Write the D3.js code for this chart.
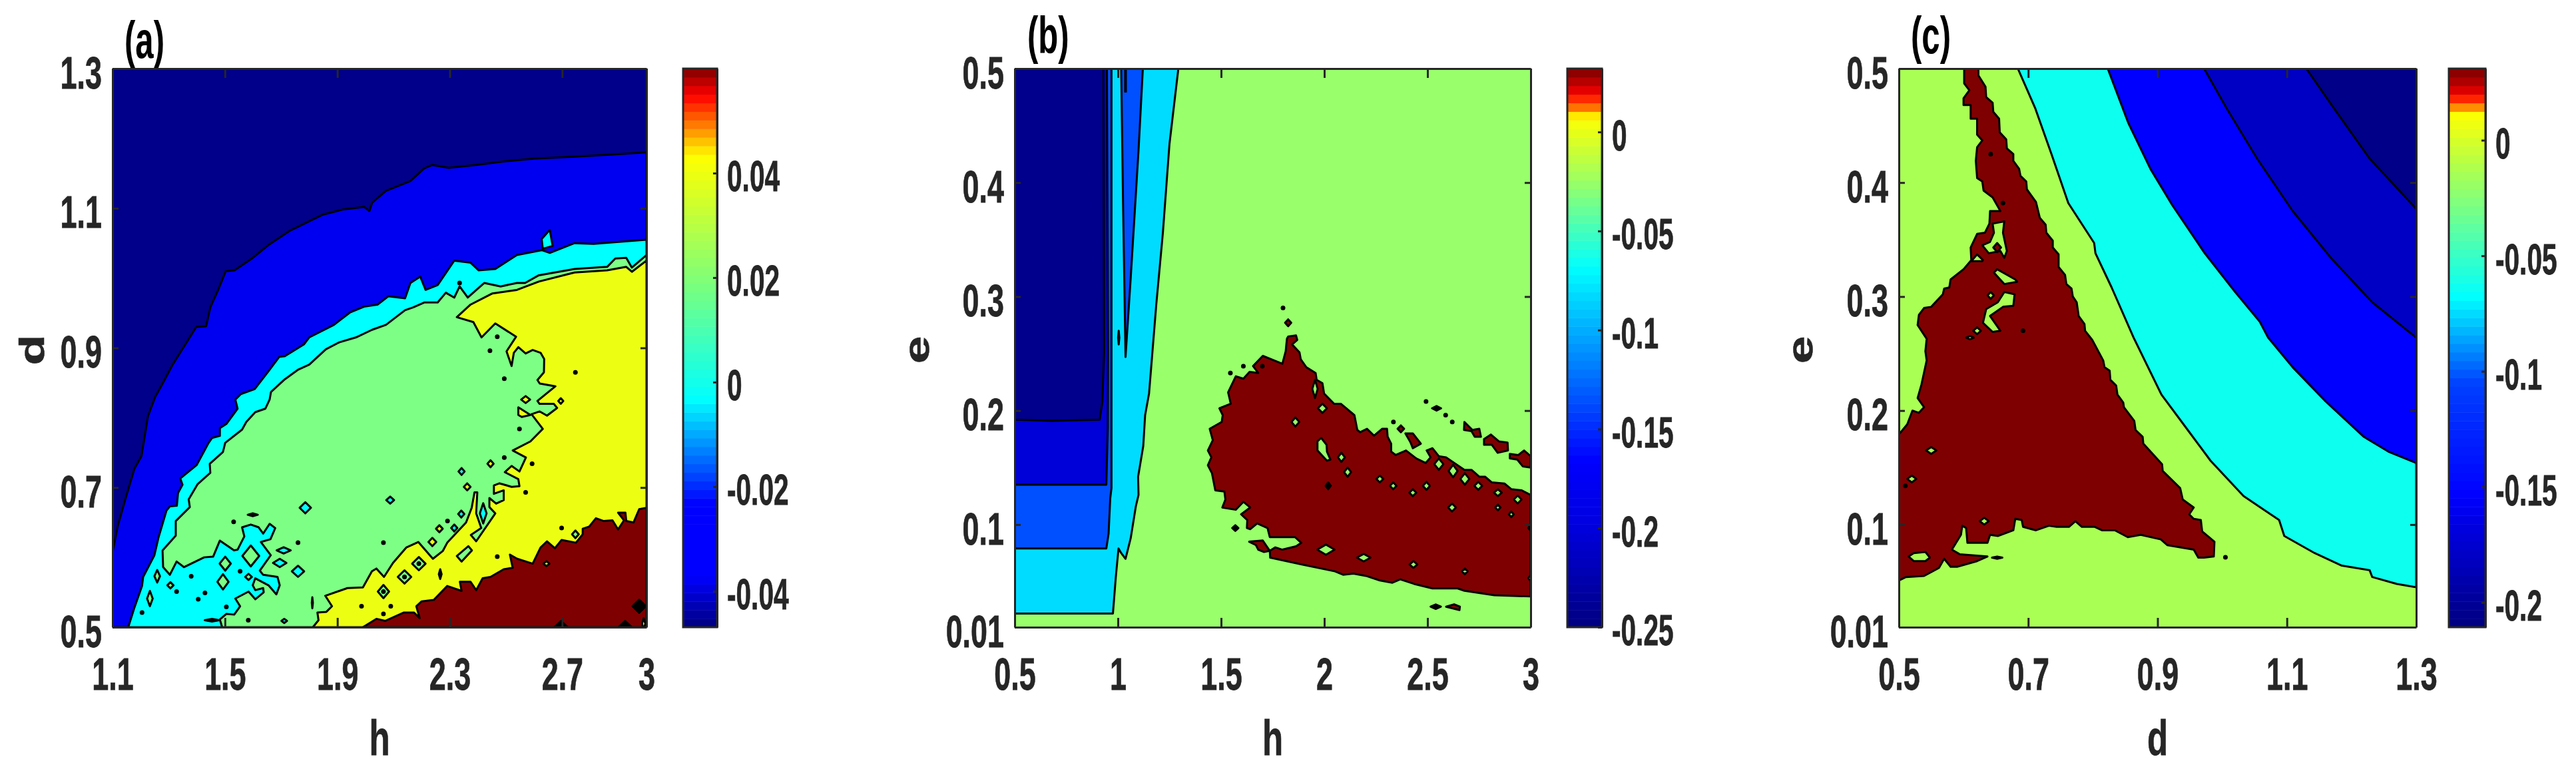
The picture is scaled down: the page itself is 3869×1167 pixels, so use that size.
<!DOCTYPE html>
<html>
<head>
<meta charset="utf-8">
<script src="https://cdn.jsdelivr.net/npm/d3@7"></script>
<style>
  body { margin: 0; background: #fff; }
  text { font-family: "Liberation Sans", Arial, sans-serif; font-weight: bold; }
</style>
</head>
<body>
<div id="chart"></div>
<script>
// Panel (a): h vs d
const xTicksA = [1.1, 1.5, 1.9, 2.3, 2.7, 3];
const yTicksA = [0.5, 0.7, 0.9, 1.1, 1.3];
const barTicksA = [-0.04, -0.02, 0, 0.02, 0.04];
const barStopsA = [[-0.0469, "#00007f"], [-0.0372, "#0000ff"], [-0.0233, "#0000ff"], [-0.0032, "#00ffff"], [0.0191, "#7dff7a"], [0.0432, "#ffff00"], [0.0549, "#ff0000"], [0.06, "#7f0000"]];
const colorsA = ["#00008a", "#0000f0", "#00ffff", "#7dff85", "#ecff13", "#7f0000", "#000000"];

const blueA = [[1.1,.6065],[1.119,.6456],[1.149,.688],[1.178,.727],[1.203,.745],[1.226,.802],[1.252,.83],[1.277,.848],[1.314,.876],[1.353,.901],[1.398,.93],[1.433,.931],[1.448,.958],[1.479,.986],[1.503,1.01],[1.534,1.011],[1.596,1.028],[1.654,1.047],[1.732,1.068],[1.849,1.091],[1.917,1.098],[1.995,1.102],[2.014,1.096],[2.024,1.108],[2.073,1.125],[2.16,1.139],[2.209,1.157],[2.238,1.162],[2.296,1.158],[2.393,1.162],[2.491,1.167],[2.598,1.171],[2.744,1.174],[2.88,1.177],[3,1.18],[3,.5],[1.1,.5]];
const cyanA = [[1.156,.5],[1.177,.527],[1.205,.559],[1.209,.572],[1.249,.603],[1.264,.629],[1.292,.667],[1.304,.673],[1.329,.674],[1.333,.692],[1.349,.704],[1.341,.713],[1.399,.732],[1.442,.764],[1.454,.771],[1.482,.774],[1.482,.785],[1.505,.791],[1.545,.813],[1.537,.826],[1.557,.834],[1.606,.841],[1.654,.866],[1.693,.887],[1.713,.888],[1.781,.905],[1.8,.915],[1.888,.933],[1.946,.951],[1.995,.959],[2.043,.962],[2.082,.974],[2.141,.971],[2.16,.993],[2.195,1.002],[2.214,.983],[2.257,.99],[2.316,1.025],[2.374,1.022],[2.403,1.011],[2.462,1.013],[2.539,1.033],[2.627,1.04],[2.656,1.036],[2.744,1.05],[2.812,1.049],[3,1.055],[3,.5]];
const greenA = [[1.659,.826],[1.644,.813],[1.608,.808],[1.576,.794],[1.561,.783],[1.501,.764],[1.493,.751],[1.446,.734],[1.448,.721],[1.403,.705],[1.371,.683],[1.375,.672],[1.325,.652],[1.325,.631],[1.278,.61],[1.28,.586],[1.304,.575],[1.328,.594],[1.354,.586],[1.426,.6],[1.458,.601],[1.482,.624],[1.533,.61],[1.545,.611],[1.569,.63],[1.561,.643],[1.592,.647],[1.62,.643],[1.636,.634],[1.659,.648],[1.679,.642],[1.662,.626],[1.628,.622],[1.663,.603],[1.624,.581],[1.636,.575],[1.687,.572],[1.695,.56],[1.683,.547],[1.655,.56],[1.608,.57],[1.599,.56],[1.608,.553],[1.636,.556],[1.638,.55],[1.608,.54],[1.584,.551],[1.537,.541],[1.554,.53],[1.533,.518],[1.505,.519],[1.482,.511],[1.49,.5],[3,.5],[3,1.033],[2.948,1.015],[2.928,1.029],[2.889,1.028],[2.86,1.016],[2.744,1.013],[2.617,1.004],[2.568,.993],[2.539,.993],[2.481,.988],[2.423,.993],[2.364,.972],[2.335,.988],[2.316,.972],[2.286,.979],[2.257,.965],[2.209,.965],[2.17,.958],[2.141,.954],[2.073,.933],[2.024,.926],[1.966,.915],[1.907,.908],[1.859,.898],[1.8,.876],[1.761,.869],[1.713,.855],[1.664,.837]];
const yellowA = [[3,1.025],[2.948,1.009],[2.928,1.016],[2.86,1.011],[2.744,1.008],[2.617,.995],[2.539,.983],[2.452,.978],[2.374,.962],[2.325,.944],[2.384,.937],[2.413,.915],[2.462,.935],[2.536,.916],[2.502,.895],[2.52,.874],[2.528,.893],[2.544,.901],[2.57,.892],[2.595,.897],[2.623,.893],[2.636,.884],[2.635,.865],[2.612,.854],[2.62,.849],[2.676,.845],[2.612,.824],[2.619,.82],[2.67,.82],[2.682,.814],[2.646,.803],[2.62,.809],[2.591,.805],[2.631,.784],[2.587,.766],[2.524,.753],[2.571,.743],[2.548,.723],[2.52,.731],[2.496,.722],[2.544,.712],[2.548,.702],[2.52,.701],[2.477,.706],[2.457,.703],[2.457,.691],[2.492,.696],[2.492,.682],[2.465,.677],[2.441,.685],[2.441,.672],[2.462,.663],[2.394,.623],[2.375,.632],[2.412,.642],[2.394,.663],[2.398,.693],[2.388,.693],[2.378,.671],[2.358,.65],[2.291,.621],[2.275,.609],[2.24,.598],[2.188,.622],[2.145,.614],[2.098,.592],[2.066,.572],[2.039,.584],[2.023,.58],[1.991,.557],[1.936,.556],[1.857,.545],[1.881,.53],[1.861,.522],[1.829,.521],[1.833,.51],[1.813,.5],[3,.5]];
const redA = [[1.991,.5],[2.039,.512],[2.07,.509],[2.137,.521],[2.173,.521],[2.193,.513],[2.181,.53],[2.2,.537],[2.243,.539],[2.291,.559],[2.342,.552],[2.336,.565],[2.374,.565],[2.394,.553],[2.417,.57],[2.445,.572],[2.492,.583],[2.524,.585],[2.514,.604],[2.54,.598],[2.595,.591],[2.623,.614],[2.646,.623],[2.674,.613],[2.698,.625],[2.749,.621],[2.773,.633],[2.773,.641],[2.796,.644],[2.82,.656],[2.848,.652],[2.879,.653],[2.899,.64],[2.92,.653],[2.899,.664],[2.925,.664],[2.928,.652],[2.954,.65],[2.974,.669],[3,.671],[3,.5]];
const patchesA = [
  {level: 2, ring: [[2.627,1.056],[2.656,1.069],[2.666,1.046],[2.631,1.042]]},
  {level: 4, ring: [[2.544,.815],[2.587,.804],[2.556,.801],[2.544,.804]]},
  {level: 3, ring: [[2.325,.602],[2.366,.616],[2.379,.61],[2.342,.594]]}
];
const islandsA = [[1.786,.671,.02,.008,2],[2.088,.682,.014,.005,2],[1.76,.58,.022,.008,2],[1.709,.61,.025,.0045,2],[1.695,.592,.024,.006,2],[1.711,.509,.01,.003,2],[1.306,.56,.011,.0045,3],[1.501,.591,.02,.01,3],[1.493,.565,.02,.011,3],[1.259,.573,.01,.009,3],[1.233,.541,.01,.011,3],[1.592,.602,.03,.015,3],[1.584,.572,.012,.0045,3],[2.064,.551,.02,.0095,3],[2.139,.572,.024,.0095,3],[2.19,.591,.024,.0095,3],[2.57,.826,.016,.005,4],[2.445,.734,.011,.005,4],[2.362,.701,.012,.005,4],[2.263,.641,.012,.005,4],[2.238,.622,.014,.006,4],[2.342,.723,.011,.005,2],[2.341,.662,.011,.005,2],[2.316,.642,.011,.005,2],[2.419,.663,.012,.0145,2],[2.747,.633,.012,.0055,3],[2.695,.824,.009,.004,4],[2.644,.591,.011,.0035,4],[1.599,.661,.018,.002,6],[1.811,.535,.002,.008,6],[1.454,.51,.026,.002,6],[2.266,.576,.005,.007,6],[2.974,.53,.024,.0095,6],[2.924,.5,.024,.009,6],[2.696,.5,.024,.009,6],[2.99,.505,.006,.008,4]];
const spotsA = [[1.531,.651],[1.76,.621],[2.064,.621],[1.554,.58],[1.38,.573],[1.328,.551],[1.429,.549],[1.405,.54],[1.505,.529],[1.205,.521],[1.583,.51],[1.986,.53],[2.09,.53],[2.064,.519],[2.469,.916],[2.443,.896],[2.494,.856],[2.548,.784],[2.494,.743],[2.593,.734],[2.57,.693],[2.292,.652],[2.698,.642],[2.469,.601],[2.747,.865],[2.064,.551],[2.139,.572],[2.19,.591],[2.335,.993]];

// Panel (b): h vs e
const xTicksB = [0.5, 1, 1.5, 2, 2.5, 3];
const yTicksB = [0.01, 0.1, 0.2, 0.3, 0.4, 0.5];
const barTicksB = [-0.25, -0.2, -0.15, -0.1, -0.05, 0];
const barStopsB = [[-0.25, "#000080"], [-0.1986, "#0000e0"], [-0.166, "#0000ff"], [-0.0686, "#00ffff"], [-0.0235, "#a0ff60"], [0.0077, "#ffff00"], [0.0094, "#ffaa00"], [0.0141, "#ff5500"], [0.0192, "#ff0000"], [0.0228, "#d00000"], [0.0316, "#7f0000"]];
const colorsB = ["#00008c", "#0000d8", "#0050ff", "#00dcff", "#99ff6b", "#7f0000", "#000000"];

const skyB = [[.5,.022],[.976,.022],[.99,.054],[1.003,.079],[1.016,.075],[1.037,.07],[1.062,.088],[1.087,.116],[1.1,.126],[1.098,.142],[1.123,.169],[1.132,.196],[1.151,.215],[1.186,.293],[1.218,.356],[1.25,.434],[1.293,.5],[.5,.5]];
const blueB = [[.5,.079],[.944,.079],[.955,.092],[.963,.123],[.969,.132],[.969,.5],[.5,.5]];
const darkB = [[.5,.135],[.944,.135],[.951,.185],[.952,.251],[.947,.5],[.5,.5]];
const navyB = [[.5,.192],[.681,.191],[.912,.192],[.925,.208],[.933,.251],[.93,.5],[.5,.5]];
const spikeB = [[1.016,.5],[1.025,.382],[1.037,.247],[1.062,.316],[1.1,.428],[1.121,.5]];
const spikeLineB = [[1.037,.5],[1.037,.479]];
const redB = [[1.825,.265],[1.863,.266],[1.869,.262],[1.844,.258],[1.88,.251],[1.886,.245],[1.913,.238],[1.958,.233],[1.963,.227],[1.991,.224],[1.999,.215],[2.047,.206],[2.08,.206],[2.146,.196],[2.16,.183],[2.174,.181],[2.207,.184],[2.241,.178],[2.28,.184],[2.304,.184],[2.307,.177],[2.324,.171],[2.324,.164],[2.346,.161],[2.396,.165],[2.446,.158],[2.491,.154],[2.515,.159],[2.496,.165],[2.524,.167],[2.555,.16],[2.59,.159],[2.679,.148],[2.713,.148],[2.751,.142],[2.779,.142],[2.812,.137],[2.873,.136],[2.907,.131],[2.957,.13],[3,.126],[3,.037],[2.824,.038],[2.679,.042],[2.646,.044],[2.524,.044],[2.435,.048],[2.368,.052],[2.33,.049],[2.269,.051],[2.202,.055],[2.141,.057],[2.091,.056],[2.052,.059],[1.891,.065],[1.738,.071],[1.736,.077],[1.763,.08],[1.797,.078],[1.863,.081],[1.889,.084],[1.858,.089],[1.736,.089],[1.725,.097],[1.675,.101],[1.641,.096],[1.625,.097],[1.627,.104],[1.597,.109],[1.641,.115],[1.608,.12],[1.571,.113],[1.506,.115],[1.521,.122],[1.516,.129],[1.472,.13],[1.456,.145],[1.436,.152],[1.453,.159],[1.436,.165],[1.46,.174],[1.445,.184],[1.503,.19],[1.508,.196],[1.492,.202],[1.547,.206],[1.534,.216],[1.571,.23],[1.608,.228],[1.638,.234],[1.68,.233],[1.655,.239],[1.702,.248],[1.797,.241],[1.813,.252],[1.819,.263]];
const patchesB = [
  {level: 5, ring: [[1.636,.085],[1.702,.086],[1.736,.077],[1.708,.076],[1.68,.078],[1.669,.082]]},
  {level: 5, ring: [[2.393,.18],[2.429,.18],[2.468,.171],[2.429,.167],[2.418,.172]]},
  {level: 5, ring: [[2.679,.19],[2.718,.183],[2.751,.184],[2.759,.177],[2.729,.177],[2.713,.182],[2.677,.183]]},
  {level: 5, ring: [[2.774,.175],[2.807,.179],[2.846,.173],[2.888,.172],[2.89,.165],[2.84,.163],[2.812,.17],[2.774,.17]]},
  {level: 5, ring: [[2.899,.162],[2.94,.161],[2.968,.165],[3,.16],[3,.15],[2.962,.151],[2.935,.157],[2.899,.158]]},
  {level: 5, ring: [[2.59,.028],[2.629,.03],[2.657,.028],[2.655,.025]]},
  {level: 4, ring: [[1.985,.176],[2.011,.17],[2.013,.164],[2.03,.157],[2.013,.156],[1.967,.165],[1.967,.173]]}
];
const islandsB = [[1.955,.219,.013,.008,4],[1.991,.202,.022,.004,4],[1.86,.19,.019,.004,4],[2.083,.159,.017,.004,4],[2.113,.146,.017,.004,4],[2.269,.14,.017,.003,4],[2.334,.134,.016,.003,4],[2.429,.128,.017,.003,4],[2.495,.134,.017,.0035,4],[2.555,.153,.022,.005,4],[2.624,.147,.022,.0055,4],[2.681,.14,.022,.005,4],[2.746,.134,.019,.0035,4],[2.841,.128,.019,.003,4],[2.937,.122,.019,.0035,4],[2.619,.115,.019,.0035,4],[2.841,.115,.013,.0025,4],[2.906,.109,.012,.0025,4],[2.432,.065,.019,.003,4],[2.681,.059,.014,.0025,4],[3,.053,.012,.0025,4],[3,.097,.012,.0025,6],[2.008,.078,.042,.0045,4],[2.191,.071,.033,.0033,4],[2.371,.184,.016,.003,5],[1.825,.277,.015,.003,5],[1.569,.097,.015,.0025,6],[2.544,.202,.022,.002,6],[2.54,.028,.025,.002,6],[2.019,.134,.013,.003,6],[1.004,.264,.003,.006,6]];
const spotsB = [[1.545,.233],[1.608,.239],[1.7,.239],[2.493,.208],[2.588,.196],[2.62,.19],[2.335,.19],[1.8,.29]];

// Panel (c): d vs e
const xTicksC = [0.5, 0.7, 0.9, 1.1, 1.3];
const yTicksC = [0.01, 0.1, 0.2, 0.3, 0.4, 0.5];
const barTicksC = [-0.2, -0.15, -0.1, -0.05, 0];
const barStopsC = [[-0.2107, "#000080"], [-0.1536, "#0000ff"], [-0.1055, "#0040ff"], [-0.068, "#00ffff"], [-0.0141, "#a8ff55"], [0.0118, "#ffff00"], [0.0135, "#ffaa00"], [0.0158, "#ff5500"], [0.0196, "#ff0000"], [0.0233, "#c00000"], [0.0308, "#7f0000"]];
const colorsC = ["#000088", "#0000c4", "#0000ff", "#0dffef", "#aaff55", "#7f0000", "#000000"];

const cyanC = [[.684,.5],[.711,.465],[.736,.425],[.762,.382],[.802,.347],[.804,.338],[.829,.308],[.863,.264],[.906,.214],[.948,.182],[.982,.156],[1.033,.125],[1.088,.104],[1.096,.09],[1.143,.075],[1.185,.064],[1.228,.06],[1.232,.054],[1.27,.048],[1.3,.045],[1.3,.5]];
const blueC = [[.823,.5],[.855,.452],[.889,.412],[.923,.38],[.973,.338],[1.02,.304],[1.058,.278],[1.071,.264],[1.109,.238],[1.16,.208],[1.219,.177],[1.257,.164],[1.3,.154],[1.3,.5]];
const darkC = [[.972,.5],[1.007,.465],[1.054,.421],[1.109,.375],[1.168,.334],[1.232,.295],[1.3,.264],[1.3,.5]];
const navyC = [[1.13,.5],[1.168,.469],[1.228,.421],[1.3,.377],[1.3,.5]];
const redC = [[.601,.5],[.623,.5],[.623,.494],[.634,.484],[.635,.475],[.645,.47],[.646,.462],[.655,.456],[.656,.444],[.666,.438],[.667,.43],[.677,.425],[.677,.419],[.686,.412],[.688,.406],[.697,.401],[.698,.394],[.712,.383],[.718,.369],[.727,.363],[.728,.356],[.738,.349],[.738,.343],[.747,.337],[.747,.326],[.757,.319],[.759,.311],[.767,.307],[.769,.3],[.775,.295],[.778,.283],[.787,.276],[.788,.27],[.799,.262],[.816,.244],[.818,.238],[.826,.235],[.827,.227],[.836,.222],[.838,.214],[.847,.207],[.848,.203],[.864,.191],[.866,.183],[.877,.177],[.878,.171],[.907,.153],[.908,.147],[.935,.132],[.939,.122],[.956,.115],[.949,.109],[.956,.105],[.967,.104],[.969,.094],[.988,.085],[.987,.072],[.972,.071],[.963,.071],[.956,.078],[.915,.082],[.905,.087],[.874,.091],[.854,.089],[.834,.095],[.814,.095],[.803,.098],[.783,.098],[.773,.103],[.763,.098],[.744,.098],[.732,.099],[.712,.095],[.692,.098],[.69,.104],[.68,.105],[.677,.095],[.653,.09],[.641,.091],[.637,.084],[.606,.084],[.604,.097],[.598,.099],[.596,.091],[.582,.078],[.594,.074],[.637,.072],[.621,.068],[.59,.063],[.58,.063],[.57,.07],[.562,.062],[.539,.055],[.511,.054],[.5,.051],[.5,.179],[.513,.188],[.521,.2],[.531,.198],[.539,.203],[.529,.211],[.535,.223],[.543,.244],[.541,.252],[.543,.263],[.529,.275],[.531,.284],[.539,.29],[.55,.291],[.568,.302],[.57,.307],[.578,.308],[.58,.315],[.6,.324],[.612,.332],[.611,.343],[.621,.355],[.633,.356],[.64,.364],[.641,.375],[.657,.375],[.645,.387],[.631,.393],[.629,.401],[.621,.404],[.619,.419],[.621,.431],[.629,.437],[.621,.442],[.621,.456],[.611,.456],[.611,.468],[.6,.468],[.6,.474],[.609,.481],[.601,.487]];
const patchesC = [
  {level: 4, ring: [[.645,.364],[.663,.366],[.661,.356],[.667,.34],[.663,.334],[.657,.34],[.639,.338],[.629,.345],[.641,.348],[.647,.356]]},
  {level: 4, ring: [[.612,.331],[.621,.337],[.63,.332],[.629,.331]]},
  {level: 4, ring: [[.652,.324],[.68,.315],[.683,.313],[.663,.311],[.647,.321]]},
  {level: 4, ring: [[.663,.304],[.679,.302],[.677,.292],[.661,.291],[.641,.283],[.657,.27],[.645,.269],[.63,.277],[.635,.289],[.653,.295]]},
  {level: 4, ring: [[.515,.072],[.523,.075],[.541,.076],[.548,.071],[.541,.068],[.523,.068]]}
];
const islandsC = [[.652,.343,.006,.004,5],[.642,.301,.005,.003,4],[.621,.27,.006,.003,4],[.61,.264,.006,.0015,4],[.55,.165,.008,.003,4],[.52,.14,.007,.003,4],[.632,.103,.007,.003,4],[.652,.071,.008,.001,6]];
const spotsC = [[.51,.134],[.642,.425],[.661,.382],[.692,.27],[1.005,.0713]];

const INK = "#262626";
const SQUEEZE = 0.66;   // the original figure is narrowed horizontally
const plainNumber = d => String(d);   // keeps the plain hyphen of the original labels

const svg = d3.select("#chart").append("svg")
  .attr("width", 3869)
  .attr("height", 1167)
  .style("display", "block");
svg.append("rect").attr("width", 3869).attr("height", 1167).attr("fill", "#fff");

function squeezeAxisText(axisG, fontSize, dy, squeeze) {
  axisG.selectAll("text")
    .attr("fill", INK)
    .attr("stroke", INK)
    .attr("stroke-width", 0.8)
    .style("font-size", fontSize + "px")
    .attr("transform", `scale(${squeeze},1)`)
    .each(function() {
      const t = d3.select(this);
      t.attr("x", (+t.attr("x") || 0) / squeeze);
      if (dy) t.attr("dy", dy);
    });
}

function styleAxis(axisG, width) {
  axisG.selectAll("path.domain").attr("stroke", INK).attr("stroke-width", width);
  axisG.selectAll("line").attr("stroke", INK).attr("stroke-width", width);
}

function drawPanel(cfg) {
  const { left, right, top, bottom } = cfg.box;
  const x = d3.scaleLinear().domain(cfg.xDomain).range([left, right]);
  const y = d3.scaleLinear().domain(cfg.yDomain).range([bottom, top]);
  const line = d3.line().x(d => x(d[0])).y(d => y(d[1]));
  const g = svg.append("g");
  const clipId = "clip-" + cfg.name;

  // panel tag sits behind the plot, the axes cut its brackets
  g.append("text")
    .attr("transform", `translate(${cfg.tagX},${cfg.tagY}) scale(0.63,1)`)
    .attr("fill", "#000")
    .style("font-size", "78px")
    .text(cfg.tag);

  g.append("clipPath").attr("id", clipId).append("rect")
    .attr("x", left).attr("y", top)
    .attr("width", right - left).attr("height", bottom - top);

  const plot = g.append("g").attr("clip-path", `url(#${clipId})`);
  plot.append("rect")
    .attr("x", left).attr("y", top)
    .attr("width", right - left).attr("height", bottom - top)
    .attr("fill", cfg.base);

  // filled contour bands, lowest first
  plot.selectAll(".band")
    .data(cfg.bands)
    .enter().append("path")
    .attr("class", "band")
    .attr("d", d => line(d.ring) + "Z")
    .attr("fill", d => d.color)
    .attr("stroke", "#000")
    .attr("stroke-width", 3)
    .attr("stroke-linejoin", "round");

  plot.selectAll(".patch")
    .data(cfg.patches)
    .enter().append("path")
    .attr("class", "patch")
    .attr("d", d => line(d.ring) + "Z")
    .attr("fill", d => cfg.colors[d.level])
    .attr("stroke", "#000")
    .attr("stroke-width", 3)
    .attr("stroke-linejoin", "round");

  plot.selectAll(".island")
    .data(cfg.islands)
    .enter().append("path")
    .attr("class", "island")
    .attr("d", d => line([[d[0] - d[2], d[1]], [d[0], d[1] + d[3]], [d[0] + d[2], d[1]], [d[0], d[1] - d[3]]]) + "Z")
    .attr("fill", d => cfg.colors[d[4]])
    .attr("stroke", "#000")
    .attr("stroke-width", 3)
    .attr("stroke-linejoin", "round");

  plot.selectAll(".spot")
    .data(cfg.spots)
    .enter().append("circle")
    .attr("class", "spot")
    .attr("cx", d => x(d[0]))
    .attr("cy", d => y(d[1]))
    .attr("r", 3.5)
    .attr("fill", "#000");

  if (cfg.extraLine) {
    plot.append("path").attr("d", line(cfg.extraLine))
      .attr("fill", "none").attr("stroke", "#000").attr("stroke-width", 4);
  }

  // box axes with inward ticks
  const xBottom = g.append("g").attr("transform", `translate(0,${bottom})`)
    .call(d3.axisBottom(x).tickValues(cfg.xTicks).tickFormat(plainNumber).tickSizeInner(-14).tickSizeOuter(0).tickPadding(46));
  const xTop = g.append("g").attr("transform", `translate(0,${top})`)
    .call(d3.axisTop(x).tickValues(cfg.xTicks).tickFormat("").tickSizeInner(-14).tickSizeOuter(0));
  const yLeft = g.append("g").attr("transform", `translate(${left},0)`)
    .call(d3.axisLeft(y).tickValues(cfg.yTicks).tickFormat(plainNumber).tickSizeInner(-9).tickSizeOuter(0).tickPadding(16));
  const yRight = g.append("g").attr("transform", `translate(${right},0)`)
    .call(d3.axisRight(y).tickValues(cfg.yTicks).tickFormat("").tickSizeInner(-9).tickSizeOuter(0));
  [xBottom, xTop, yLeft, yRight].forEach(a => styleAxis(a, 3));
  squeezeAxisText(xBottom, 68, null, SQUEEZE);
  squeezeAxisText(yLeft, 68, "0.43em", SQUEEZE);

  // axis titles
  g.append("text")
    .attr("transform", `translate(${(left + right) / 2},1134) scale(0.68,1)`)
    .attr("text-anchor", "middle")
    .attr("fill", INK)
    .attr("stroke", INK)
    .attr("stroke-width", 0.8)
    .style("font-size", "75px")
    .text(cfg.xLabel);
  g.append("text")
    .attr("transform", `translate(${cfg.yLabelX},${(top + bottom) / 2 + 3}) scale(0.68,1) rotate(-90)`)
    .attr("text-anchor", "middle")
    .attr("fill", INK)
    .attr("stroke", INK)
    .attr("stroke-width", 0.8)
    .style("font-size", "75px")
    .text(cfg.yLabel);

  // colour bar
  const b = cfg.bar;
  const barY = d3.scaleLinear().domain(b.domain).range([bottom, top]);
  const barColor = d3.scaleLinear()
    .domain(b.stops.map(d => d[0]))
    .range(b.stops.map(d => d[1]))
    .interpolate(d3.interpolateRgb)
    .clamp(true);
  const bands = d3.range(65);
  const step = (b.domain[1] - b.domain[0]) / 65;
  g.selectAll(".bar-cell")
    .data(bands)
    .enter().append("rect")
    .attr("class", "bar-cell")
    .attr("x", b.left)
    .attr("width", b.right - b.left)
    .attr("y", i => barY(b.domain[0] + step * (i + 1)))
    .attr("height", i => barY(b.domain[0] + step * i) - barY(b.domain[0] + step * (i + 1)) + 0.5)
    .attr("fill", i => barColor(b.domain[0] + step * (i + 0.5)));
  g.append("rect")
    .attr("x", b.left).attr("y", top)
    .attr("width", b.right - b.left).attr("height", bottom - top)
    .attr("fill", "none").attr("stroke", INK).attr("stroke-width", 3);
  const barAxis = g.append("g").attr("transform", `translate(${b.right},0)`)
    .call(d3.axisRight(barY).tickValues(b.ticks).tickFormat(plainNumber).tickSizeInner(-6).tickSizeOuter(0).tickPadding(15));
  styleAxis(barAxis, 3);
  squeezeAxisText(barAxis, 64, "0.42em", 0.635);
}

drawPanel({
  name: "a", tag: "(a)", tagX: 187, tagY: 87,
  box: { left: 169, right: 971, top: 103, bottom: 942 },
  xDomain: [1.1, 3], yDomain: [0.5, 1.3],
  xTicks: xTicksA, yTicks: yTicksA,
  xLabel: "h", yLabel: "d", yLabelX: 66,
  base: colorsA[0], colors: colorsA,
  bands: [
    { ring: blueA, color: colorsA[1] },
    { ring: cyanA, color: colorsA[2] },
    { ring: greenA, color: colorsA[3] },
    { ring: yellowA, color: colorsA[4] },
    { ring: redA, color: colorsA[5] }
  ],
  patches: patchesA, islands: islandsA, spots: spotsA,
  bar: { left: 1026, right: 1077, domain: [-0.0469, 0.06], ticks: barTicksA, stops: barStopsA }
});

drawPanel({
  name: "b", tag: "(b)", tagX: 1543, tagY: 80,
  box: { left: 1524, right: 2299, top: 103, bottom: 942 },
  xDomain: [0.5, 3], yDomain: [0.01, 0.5],
  xTicks: xTicksB, yTicks: yTicksB,
  xLabel: "h", yLabel: "e", yLabelX: 1395,
  base: colorsB[4], colors: colorsB,
  bands: [
    { ring: skyB, color: colorsB[3] },
    { ring: blueB, color: colorsB[2] },
    { ring: darkB, color: colorsB[1] },
    { ring: navyB, color: colorsB[0] },
    { ring: spikeB, color: colorsB[2] },
    { ring: redB, color: colorsB[5] }
  ],
  extraLine: spikeLineB,
  patches: patchesB, islands: islandsB, spots: spotsB,
  bar: { left: 2354, right: 2406, domain: [-0.25, 0.032], ticks: barTicksB, stops: barStopsB }
});

drawPanel({
  name: "c", tag: "(c)", tagX: 2870, tagY: 80,
  box: { left: 2852, right: 3629, top: 103, bottom: 942 },
  xDomain: [0.5, 1.3], yDomain: [0.01, 0.5],
  xTicks: xTicksC, yTicks: yTicksC,
  xLabel: "d", yLabel: "e", yLabelX: 2722,
  base: colorsC[4], colors: colorsC,
  bands: [
    { ring: cyanC, color: colorsC[3] },
    { ring: blueC, color: colorsC[2] },
    { ring: darkC, color: colorsC[1] },
    { ring: navyC, color: colorsC[0] },
    { ring: redC, color: colorsC[5] }
  ],
  patches: patchesC, islands: islandsC, spots: spotsC,
  bar: { left: 3678, right: 3733, domain: [-0.2107, 0.031], ticks: barTicksC, stops: barStopsC }
});
</script>
</body>
</html>
